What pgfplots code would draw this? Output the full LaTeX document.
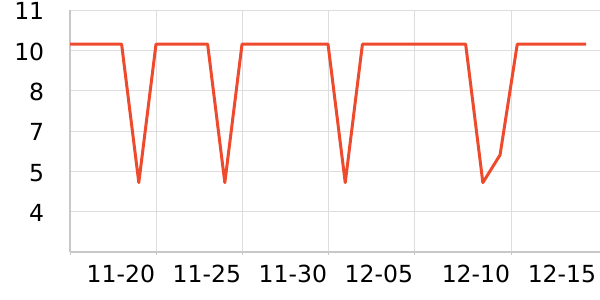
\documentclass[border=0pt]{standalone}
\usepackage{pgfplots}
\pgfplotsset{compat=1.18}
\usepackage{fontspec}
\setmainfont{DejaVu Sans}
\definecolor{linec}{HTML}{EE4B2E}
\definecolor{gridc}{HTML}{DDDDDD}
\definecolor{axisc}{HTML}{C8C8C8}
\begin{document}
\begin{tikzpicture}
\useasboundingbox (-35bp,-24bp) rectangle (265bp,126bp);
\begin{axis}[
  at={(0,0)}, anchor=south west,
  scale only axis, width=265bp, height=121bp,
  xmin=0, xmax=30.81, ymin=2.5, ymax=11.5,
  axis x line=bottom, axis y line=left,
  axis line style={draw=axisc, line width=0.6bp, -},
  xtick={0,5,10,15,20,25.64},
  xticklabels={,11-20,11-25,11-30,12-05,12-10},
  extra x ticks={30.64},
  extra x tick labels={12-15},
  extra x tick style={grid=none, xtick style={draw=none}},
  ytick={2.5,4,5.5,7,8.5,10,11.5},
  yticklabels={,4,5,7,8,10,11},
  xmajorgrids, ymajorgrids,
  grid style={draw=gridc, line width=0.5bp},
  major tick length=1.5bp,
  xtick style={draw=axisc, line width=0.5bp},
  ytick style={draw=none},
  tick align=outside,
  xticklabel style={anchor=north east, inner sep=0pt, yshift=-5bp, xshift=-0.3bp, font=\fontsize{11.8}{13}\selectfont},
  yticklabel style={anchor=east, inner sep=0pt, xshift=-11.2bp, yshift=-0.7bp, font=\fontsize{11.8}{13}\selectfont},
  clip=false,
]
\addplot[linec, line width=1.5bp, line join=round, mark=none] coordinates {
(0,10.23) (1,10.23) (2,10.23) (3,10.23) (4,5.08) (5,10.23) (6,10.23) (7,10.23) (8,10.23)
(9,5.08) (10,10.23) (11,10.23) (12,10.23) (13,10.23) (14,10.23) (15,10.23) (16,5.08)
(17,10.23) (18,10.23) (19,10.23) (20,10.23) (21,10.23) (22,10.23) (23,10.23) (24,5.08)
(25,6.11) (26,10.23) (27,10.23) (28,10.23) (29,10.23) (30,10.23)
};
\end{axis}
\end{tikzpicture}
\end{document}
